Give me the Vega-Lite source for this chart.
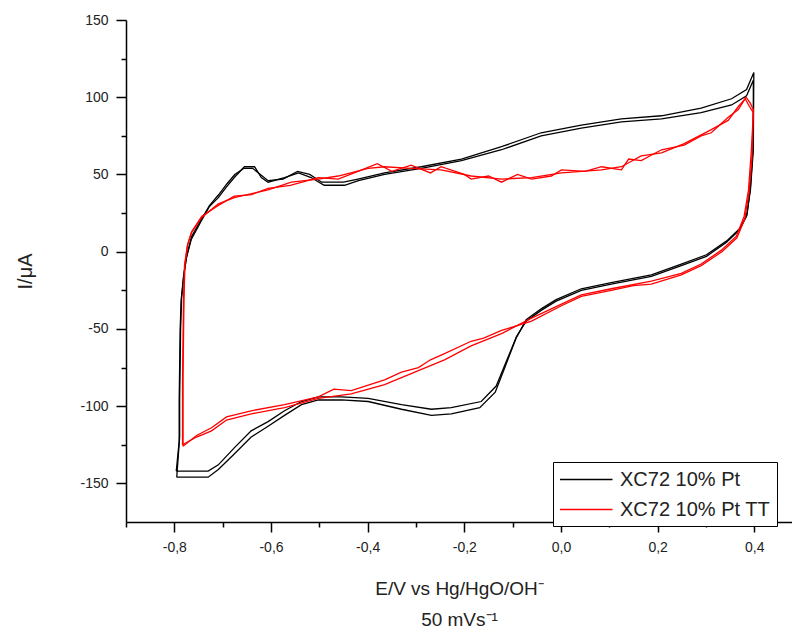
{
  "$schema": "https://vega.github.io/schema/vega-lite/v6.json",
  "width": 666,
  "height": 502,
  "autosize": "none",
  "padding": {"left": 126, "top": 20, "right": 0, "bottom": 109},
  "background": "white",
  "config": {
    "view": {"stroke": null},
    "font": "Liberation Sans",
    "axis": {
      "domainColor": "black", "domainWidth": 1.5, "tickColor": "black", "tickWidth": 1.5,
      "labelFont": "Liberation Sans", "labelFontSize": 14, "labelColor": "#222",
      "titleFont": "Liberation Sans", "titleFontWeight": "normal", "titleColor": "#222", "titleFontSize": 19,
      "grid": false
    }
  },
  "datasets": {
    "cv": [
      {"s":"XC72 10% Pt","c":"A","i":1,"x":-0.796,"y":-142},
      {"s":"XC72 10% Pt","c":"A","i":2,"x":-0.790,"y":-123},
      {"s":"XC72 10% Pt","c":"A","i":3,"x":-0.790,"y":-97},
      {"s":"XC72 10% Pt","c":"A","i":4,"x":-0.788,"y":-51},
      {"s":"XC72 10% Pt","c":"A","i":5,"x":-0.786,"y":-32},
      {"s":"XC72 10% Pt","c":"A","i":6,"x":-0.781,"y":-16},
      {"s":"XC72 10% Pt","c":"A","i":7,"x":-0.775,"y":-4},
      {"s":"XC72 10% Pt","c":"A","i":8,"x":-0.765,"y":8},
      {"s":"XC72 10% Pt","c":"A","i":9,"x":-0.744,"y":20},
      {"s":"XC72 10% Pt","c":"A","i":10,"x":-0.728,"y":29},
      {"s":"XC72 10% Pt","c":"A","i":11,"x":-0.709,"y":35},
      {"s":"XC72 10% Pt","c":"A","i":12,"x":-0.692,"y":42},
      {"s":"XC72 10% Pt","c":"A","i":13,"x":-0.676,"y":48},
      {"s":"XC72 10% Pt","c":"A","i":14,"x":-0.655,"y":55},
      {"s":"XC72 10% Pt","c":"A","i":15,"x":-0.634,"y":55},
      {"s":"XC72 10% Pt","c":"A","i":16,"x":-0.620,"y":48},
      {"s":"XC72 10% Pt","c":"A","i":17,"x":-0.606,"y":45},
      {"s":"XC72 10% Pt","c":"A","i":18,"x":-0.572,"y":48},
      {"s":"XC72 10% Pt","c":"A","i":19,"x":-0.543,"y":51},
      {"s":"XC72 10% Pt","c":"A","i":20,"x":-0.517,"y":48},
      {"s":"XC72 10% Pt","c":"A","i":21,"x":-0.490,"y":43},
      {"s":"XC72 10% Pt","c":"A","i":22,"x":-0.448,"y":43},
      {"s":"XC72 10% Pt","c":"A","i":23,"x":-0.419,"y":46},
      {"s":"XC72 10% Pt","c":"A","i":24,"x":-0.365,"y":50},
      {"s":"XC72 10% Pt","c":"A","i":25,"x":-0.289,"y":54},
      {"s":"XC72 10% Pt","c":"A","i":26,"x":-0.206,"y":59},
      {"s":"XC72 10% Pt","c":"A","i":27,"x":-0.123,"y":66},
      {"s":"XC72 10% Pt","c":"A","i":28,"x":-0.041,"y":75},
      {"s":"XC72 10% Pt","c":"A","i":29,"x":0.042,"y":80},
      {"s":"XC72 10% Pt","c":"A","i":30,"x":0.125,"y":84},
      {"s":"XC72 10% Pt","c":"A","i":31,"x":0.208,"y":86},
      {"s":"XC72 10% Pt","c":"A","i":32,"x":0.290,"y":90},
      {"s":"XC72 10% Pt","c":"A","i":33,"x":0.353,"y":95},
      {"s":"XC72 10% Pt","c":"A","i":34,"x":0.384,"y":101},
      {"s":"XC72 10% Pt","c":"A","i":35,"x":0.398,"y":111},
      {"s":"XC72 10% Pt","c":"A","i":36,"x":0.398,"y":66},
      {"s":"XC72 10% Pt","c":"A","i":37,"x":0.392,"y":40},
      {"s":"XC72 10% Pt","c":"A","i":38,"x":0.384,"y":23},
      {"s":"XC72 10% Pt","c":"A","i":39,"x":0.369,"y":14},
      {"s":"XC72 10% Pt","c":"A","i":40,"x":0.342,"y":6},
      {"s":"XC72 10% Pt","c":"A","i":41,"x":0.301,"y":-3},
      {"s":"XC72 10% Pt","c":"A","i":42,"x":0.249,"y":-9},
      {"s":"XC72 10% Pt","c":"A","i":43,"x":0.187,"y":-16},
      {"s":"XC72 10% Pt","c":"A","i":44,"x":0.104,"y":-21},
      {"s":"XC72 10% Pt","c":"A","i":45,"x":0.042,"y":-25},
      {"s":"XC72 10% Pt","c":"A","i":46,"x":-0.010,"y":-32},
      {"s":"XC72 10% Pt","c":"A","i":47,"x":-0.041,"y":-38},
      {"s":"XC72 10% Pt","c":"A","i":48,"x":-0.072,"y":-45},
      {"s":"XC72 10% Pt","c":"A","i":49,"x":-0.092,"y":-55},
      {"s":"XC72 10% Pt","c":"A","i":50,"x":-0.113,"y":-71},
      {"s":"XC72 10% Pt","c":"A","i":51,"x":-0.134,"y":-87},
      {"s":"XC72 10% Pt","c":"A","i":52,"x":-0.165,"y":-97},
      {"s":"XC72 10% Pt","c":"A","i":53,"x":-0.227,"y":-101},
      {"s":"XC72 10% Pt","c":"A","i":54,"x":-0.268,"y":-102},
      {"s":"XC72 10% Pt","c":"A","i":55,"x":-0.330,"y":-99},
      {"s":"XC72 10% Pt","c":"A","i":56,"x":-0.399,"y":-95},
      {"s":"XC72 10% Pt","c":"A","i":57,"x":-0.454,"y":-94},
      {"s":"XC72 10% Pt","c":"A","i":58,"x":-0.502,"y":-94},
      {"s":"XC72 10% Pt","c":"A","i":59,"x":-0.537,"y":-97},
      {"s":"XC72 10% Pt","c":"A","i":60,"x":-0.572,"y":-103},
      {"s":"XC72 10% Pt","c":"A","i":61,"x":-0.606,"y":-110},
      {"s":"XC72 10% Pt","c":"A","i":62,"x":-0.641,"y":-116},
      {"s":"XC72 10% Pt","c":"A","i":63,"x":-0.676,"y":-127},
      {"s":"XC72 10% Pt","c":"A","i":64,"x":-0.709,"y":-138},
      {"s":"XC72 10% Pt","c":"A","i":65,"x":-0.730,"y":-142},
      {"s":"XC72 10% Pt","c":"A","i":66,"x":-0.765,"y":-142},
      {"s":"XC72 10% Pt","c":"A","i":67,"x":-0.796,"y":-142},

      {"s":"XC72 10% Pt","c":"B","i":1,"x":-0.795,"y":-146},
      {"s":"XC72 10% Pt","c":"B","i":2,"x":-0.789,"y":-120},
      {"s":"XC72 10% Pt","c":"B","i":3,"x":-0.789,"y":-95},
      {"s":"XC72 10% Pt","c":"B","i":4,"x":-0.787,"y":-50},
      {"s":"XC72 10% Pt","c":"B","i":5,"x":-0.785,"y":-30},
      {"s":"XC72 10% Pt","c":"B","i":6,"x":-0.780,"y":-14},
      {"s":"XC72 10% Pt","c":"B","i":7,"x":-0.774,"y":-2},
      {"s":"XC72 10% Pt","c":"B","i":8,"x":-0.764,"y":10},
      {"s":"XC72 10% Pt","c":"B","i":9,"x":-0.744,"y":21},
      {"s":"XC72 10% Pt","c":"B","i":10,"x":-0.727,"y":30},
      {"s":"XC72 10% Pt","c":"B","i":11,"x":-0.708,"y":37},
      {"s":"XC72 10% Pt","c":"B","i":12,"x":-0.691,"y":44},
      {"s":"XC72 10% Pt","c":"B","i":13,"x":-0.675,"y":50},
      {"s":"XC72 10% Pt","c":"B","i":14,"x":-0.656,"y":54},
      {"s":"XC72 10% Pt","c":"B","i":15,"x":-0.638,"y":54},
      {"s":"XC72 10% Pt","c":"B","i":16,"x":-0.622,"y":50},
      {"s":"XC72 10% Pt","c":"B","i":17,"x":-0.606,"y":46},
      {"s":"XC72 10% Pt","c":"B","i":18,"x":-0.575,"y":47},
      {"s":"XC72 10% Pt","c":"B","i":19,"x":-0.545,"y":52},
      {"s":"XC72 10% Pt","c":"B","i":20,"x":-0.520,"y":50},
      {"s":"XC72 10% Pt","c":"B","i":21,"x":-0.495,"y":45},
      {"s":"XC72 10% Pt","c":"B","i":22,"x":-0.450,"y":45},
      {"s":"XC72 10% Pt","c":"B","i":23,"x":-0.420,"y":47},
      {"s":"XC72 10% Pt","c":"B","i":24,"x":-0.365,"y":51},
      {"s":"XC72 10% Pt","c":"B","i":25,"x":-0.289,"y":55},
      {"s":"XC72 10% Pt","c":"B","i":26,"x":-0.206,"y":60},
      {"s":"XC72 10% Pt","c":"B","i":27,"x":-0.123,"y":68},
      {"s":"XC72 10% Pt","c":"B","i":28,"x":-0.041,"y":77},
      {"s":"XC72 10% Pt","c":"B","i":29,"x":0.042,"y":82},
      {"s":"XC72 10% Pt","c":"B","i":30,"x":0.125,"y":86},
      {"s":"XC72 10% Pt","c":"B","i":31,"x":0.208,"y":88},
      {"s":"XC72 10% Pt","c":"B","i":32,"x":0.290,"y":93},
      {"s":"XC72 10% Pt","c":"B","i":33,"x":0.353,"y":99},
      {"s":"XC72 10% Pt","c":"B","i":34,"x":0.384,"y":105},
      {"s":"XC72 10% Pt","c":"B","i":35,"x":0.399,"y":116},
      {"s":"XC72 10% Pt","c":"B","i":36,"x":0.398,"y":70},
      {"s":"XC72 10% Pt","c":"B","i":37,"x":0.392,"y":42},
      {"s":"XC72 10% Pt","c":"B","i":38,"x":0.385,"y":24},
      {"s":"XC72 10% Pt","c":"B","i":39,"x":0.370,"y":15},
      {"s":"XC72 10% Pt","c":"B","i":40,"x":0.343,"y":7},
      {"s":"XC72 10% Pt","c":"B","i":41,"x":0.301,"y":-2},
      {"s":"XC72 10% Pt","c":"B","i":42,"x":0.249,"y":-8},
      {"s":"XC72 10% Pt","c":"B","i":43,"x":0.187,"y":-15},
      {"s":"XC72 10% Pt","c":"B","i":44,"x":0.104,"y":-20},
      {"s":"XC72 10% Pt","c":"B","i":45,"x":0.042,"y":-24},
      {"s":"XC72 10% Pt","c":"B","i":46,"x":-0.010,"y":-31},
      {"s":"XC72 10% Pt","c":"B","i":47,"x":-0.041,"y":-37},
      {"s":"XC72 10% Pt","c":"B","i":48,"x":-0.072,"y":-44},
      {"s":"XC72 10% Pt","c":"B","i":49,"x":-0.093,"y":-56},
      {"s":"XC72 10% Pt","c":"B","i":50,"x":-0.115,"y":-74},
      {"s":"XC72 10% Pt","c":"B","i":51,"x":-0.136,"y":-91},
      {"s":"XC72 10% Pt","c":"B","i":52,"x":-0.168,"y":-101},
      {"s":"XC72 10% Pt","c":"B","i":53,"x":-0.227,"y":-105},
      {"s":"XC72 10% Pt","c":"B","i":54,"x":-0.268,"y":-106},
      {"s":"XC72 10% Pt","c":"B","i":55,"x":-0.330,"y":-102},
      {"s":"XC72 10% Pt","c":"B","i":56,"x":-0.399,"y":-97},
      {"s":"XC72 10% Pt","c":"B","i":57,"x":-0.454,"y":-96},
      {"s":"XC72 10% Pt","c":"B","i":58,"x":-0.502,"y":-96},
      {"s":"XC72 10% Pt","c":"B","i":59,"x":-0.537,"y":-99},
      {"s":"XC72 10% Pt","c":"B","i":60,"x":-0.572,"y":-106},
      {"s":"XC72 10% Pt","c":"B","i":61,"x":-0.606,"y":-113},
      {"s":"XC72 10% Pt","c":"B","i":62,"x":-0.641,"y":-120},
      {"s":"XC72 10% Pt","c":"B","i":63,"x":-0.676,"y":-131},
      {"s":"XC72 10% Pt","c":"B","i":64,"x":-0.709,"y":-141},
      {"s":"XC72 10% Pt","c":"B","i":65,"x":-0.730,"y":-146},
      {"s":"XC72 10% Pt","c":"B","i":66,"x":-0.765,"y":-146},
      {"s":"XC72 10% Pt","c":"B","i":67,"x":-0.795,"y":-146},

      {"s":"XC72 10% Pt TT","c":"A","i":1,"x":-0.783,"y":-125},
      {"s":"XC72 10% Pt TT","c":"A","i":2,"x":-0.783,"y":-84},
      {"s":"XC72 10% Pt TT","c":"A","i":3,"x":-0.781,"y":-32},
      {"s":"XC72 10% Pt TT","c":"A","i":4,"x":-0.779,"y":-9},
      {"s":"XC72 10% Pt TT","c":"A","i":5,"x":-0.773,"y":4},
      {"s":"XC72 10% Pt TT","c":"A","i":6,"x":-0.765,"y":12},
      {"s":"XC72 10% Pt TT","c":"A","i":7,"x":-0.744,"y":22},
      {"s":"XC72 10% Pt TT","c":"A","i":8,"x":-0.709,"y":31},
      {"s":"XC72 10% Pt TT","c":"A","i":9,"x":-0.676,"y":35},
      {"s":"XC72 10% Pt TT","c":"A","i":10,"x":-0.606,"y":40},
      {"s":"XC72 10% Pt TT","c":"A","i":11,"x":-0.558,"y":45},
      {"s":"XC72 10% Pt TT","c":"A","i":12,"x":-0.502,"y":47},
      {"s":"XC72 10% Pt TT","c":"A","i":13,"x":-0.461,"y":49},
      {"s":"XC72 10% Pt TT","c":"A","i":14,"x":-0.399,"y":54},
      {"s":"XC72 10% Pt TT","c":"A","i":15,"x":-0.365,"y":55},
      {"s":"XC72 10% Pt TT","c":"A","i":16,"x":-0.310,"y":54},
      {"s":"XC72 10% Pt TT","c":"A","i":17,"x":-0.248,"y":53},
      {"s":"XC72 10% Pt TT","c":"A","i":18,"x":-0.186,"y":49},
      {"s":"XC72 10% Pt TT","c":"A","i":19,"x":-0.123,"y":47},
      {"s":"XC72 10% Pt TT","c":"A","i":20,"x":-0.061,"y":48},
      {"s":"XC72 10% Pt TT","c":"A","i":21,"x":0.001,"y":51},
      {"s":"XC72 10% Pt TT","c":"A","i":22,"x":0.084,"y":53},
      {"s":"XC72 10% Pt TT","c":"A","i":23,"x":0.125,"y":55},
      {"s":"XC72 10% Pt TT","c":"A","i":24,"x":0.166,"y":62},
      {"s":"XC72 10% Pt TT","c":"A","i":25,"x":0.208,"y":64},
      {"s":"XC72 10% Pt TT","c":"A","i":26,"x":0.255,"y":70},
      {"s":"XC72 10% Pt TT","c":"A","i":27,"x":0.311,"y":79},
      {"s":"XC72 10% Pt TT","c":"A","i":28,"x":0.346,"y":85},
      {"s":"XC72 10% Pt TT","c":"A","i":29,"x":0.367,"y":94},
      {"s":"XC72 10% Pt TT","c":"A","i":30,"x":0.381,"y":99},
      {"s":"XC72 10% Pt TT","c":"A","i":31,"x":0.390,"y":94},
      {"s":"XC72 10% Pt TT","c":"A","i":32,"x":0.398,"y":90},
      {"s":"XC72 10% Pt TT","c":"A","i":33,"x":0.394,"y":66},
      {"s":"XC72 10% Pt TT","c":"A","i":34,"x":0.388,"y":40},
      {"s":"XC72 10% Pt TT","c":"A","i":35,"x":0.379,"y":23},
      {"s":"XC72 10% Pt TT","c":"A","i":36,"x":0.363,"y":10},
      {"s":"XC72 10% Pt TT","c":"A","i":37,"x":0.332,"y":1},
      {"s":"XC72 10% Pt TT","c":"A","i":38,"x":0.290,"y":-8},
      {"s":"XC72 10% Pt TT","c":"A","i":39,"x":0.249,"y":-14},
      {"s":"XC72 10% Pt TT","c":"A","i":40,"x":0.187,"y":-19},
      {"s":"XC72 10% Pt TT","c":"A","i":41,"x":0.104,"y":-24},
      {"s":"XC72 10% Pt TT","c":"A","i":42,"x":0.042,"y":-28},
      {"s":"XC72 10% Pt TT","c":"A","i":43,"x":0.001,"y":-34},
      {"s":"XC72 10% Pt TT","c":"A","i":44,"x":-0.061,"y":-43},
      {"s":"XC72 10% Pt TT","c":"A","i":45,"x":-0.123,"y":-53},
      {"s":"XC72 10% Pt TT","c":"A","i":46,"x":-0.186,"y":-61},
      {"s":"XC72 10% Pt TT","c":"A","i":47,"x":-0.241,"y":-70},
      {"s":"XC72 10% Pt TT","c":"A","i":48,"x":-0.295,"y":-77},
      {"s":"XC72 10% Pt TT","c":"A","i":49,"x":-0.365,"y":-86},
      {"s":"XC72 10% Pt TT","c":"A","i":50,"x":-0.434,"y":-92},
      {"s":"XC72 10% Pt TT","c":"A","i":51,"x":-0.502,"y":-95},
      {"s":"XC72 10% Pt TT","c":"A","i":52,"x":-0.572,"y":-101},
      {"s":"XC72 10% Pt TT","c":"A","i":53,"x":-0.641,"y":-105},
      {"s":"XC72 10% Pt TT","c":"A","i":54,"x":-0.692,"y":-109},
      {"s":"XC72 10% Pt TT","c":"A","i":55,"x":-0.723,"y":-116},
      {"s":"XC72 10% Pt TT","c":"A","i":56,"x":-0.754,"y":-120},
      {"s":"XC72 10% Pt TT","c":"A","i":57,"x":-0.783,"y":-125},

      {"s":"XC72 10% Pt TT","c":"B","i":1,"x":-0.782,"y":-126},
      {"s":"XC72 10% Pt TT","c":"B","i":2,"x":-0.782,"y":-80},
      {"s":"XC72 10% Pt TT","c":"B","i":3,"x":-0.780,"y":-30},
      {"s":"XC72 10% Pt TT","c":"B","i":4,"x":-0.778,"y":-8},
      {"s":"XC72 10% Pt TT","c":"B","i":5,"x":-0.772,"y":5},
      {"s":"XC72 10% Pt TT","c":"B","i":6,"x":-0.764,"y":13},
      {"s":"XC72 10% Pt TT","c":"B","i":7,"x":-0.743,"y":23},
      {"s":"XC72 10% Pt TT","c":"B","i":8,"x":-0.709,"y":30},
      {"s":"XC72 10% Pt TT","c":"B","i":9,"x":-0.676,"y":36},
      {"s":"XC72 10% Pt TT","c":"B","i":10,"x":-0.640,"y":37},
      {"s":"XC72 10% Pt TT","c":"B","i":11,"x":-0.606,"y":41},
      {"s":"XC72 10% Pt TT","c":"B","i":12,"x":-0.560,"y":43},
      {"s":"XC72 10% Pt TT","c":"B","i":13,"x":-0.502,"y":48},
      {"s":"XC72 10% Pt TT","c":"B","i":14,"x":-0.461,"y":47},
      {"s":"XC72 10% Pt TT","c":"B","i":15,"x":-0.420,"y":52},
      {"s":"XC72 10% Pt TT","c":"B","i":16,"x":-0.380,"y":57},
      {"s":"XC72 10% Pt TT","c":"B","i":17,"x":-0.350,"y":52},
      {"s":"XC72 10% Pt TT","c":"B","i":18,"x":-0.310,"y":56},
      {"s":"XC72 10% Pt TT","c":"B","i":19,"x":-0.270,"y":51},
      {"s":"XC72 10% Pt TT","c":"B","i":20,"x":-0.248,"y":55},
      {"s":"XC72 10% Pt TT","c":"B","i":21,"x":-0.200,"y":50},
      {"s":"XC72 10% Pt TT","c":"B","i":22,"x":-0.186,"y":47},
      {"s":"XC72 10% Pt TT","c":"B","i":23,"x":-0.150,"y":49},
      {"s":"XC72 10% Pt TT","c":"B","i":24,"x":-0.123,"y":45},
      {"s":"XC72 10% Pt TT","c":"B","i":25,"x":-0.090,"y":50},
      {"s":"XC72 10% Pt TT","c":"B","i":26,"x":-0.061,"y":47},
      {"s":"XC72 10% Pt TT","c":"B","i":27,"x":-0.020,"y":49},
      {"s":"XC72 10% Pt TT","c":"B","i":28,"x":0.001,"y":53},
      {"s":"XC72 10% Pt TT","c":"B","i":29,"x":0.050,"y":52},
      {"s":"XC72 10% Pt TT","c":"B","i":30,"x":0.084,"y":55},
      {"s":"XC72 10% Pt TT","c":"B","i":31,"x":0.125,"y":53},
      {"s":"XC72 10% Pt TT","c":"B","i":32,"x":0.140,"y":60},
      {"s":"XC72 10% Pt TT","c":"B","i":33,"x":0.166,"y":59},
      {"s":"XC72 10% Pt TT","c":"B","i":34,"x":0.208,"y":66},
      {"s":"XC72 10% Pt TT","c":"B","i":35,"x":0.255,"y":69},
      {"s":"XC72 10% Pt TT","c":"B","i":36,"x":0.290,"y":75},
      {"s":"XC72 10% Pt TT","c":"B","i":37,"x":0.311,"y":77},
      {"s":"XC72 10% Pt TT","c":"B","i":38,"x":0.346,"y":87},
      {"s":"XC72 10% Pt TT","c":"B","i":39,"x":0.367,"y":92},
      {"s":"XC72 10% Pt TT","c":"B","i":40,"x":0.383,"y":100},
      {"s":"XC72 10% Pt TT","c":"B","i":41,"x":0.392,"y":96},
      {"s":"XC72 10% Pt TT","c":"B","i":42,"x":0.398,"y":92},
      {"s":"XC72 10% Pt TT","c":"B","i":43,"x":0.395,"y":60},
      {"s":"XC72 10% Pt TT","c":"B","i":44,"x":0.389,"y":38},
      {"s":"XC72 10% Pt TT","c":"B","i":45,"x":0.380,"y":21},
      {"s":"XC72 10% Pt TT","c":"B","i":46,"x":0.364,"y":9},
      {"s":"XC72 10% Pt TT","c":"B","i":47,"x":0.333,"y":0},
      {"s":"XC72 10% Pt TT","c":"B","i":48,"x":0.290,"y":-9},
      {"s":"XC72 10% Pt TT","c":"B","i":49,"x":0.249,"y":-15},
      {"s":"XC72 10% Pt TT","c":"B","i":50,"x":0.187,"y":-21},
      {"s":"XC72 10% Pt TT","c":"B","i":51,"x":0.150,"y":-22},
      {"s":"XC72 10% Pt TT","c":"B","i":52,"x":0.104,"y":-25},
      {"s":"XC72 10% Pt TT","c":"B","i":53,"x":0.042,"y":-29},
      {"s":"XC72 10% Pt TT","c":"B","i":54,"x":0.001,"y":-35},
      {"s":"XC72 10% Pt TT","c":"B","i":55,"x":-0.061,"y":-45},
      {"s":"XC72 10% Pt TT","c":"B","i":56,"x":-0.123,"y":-51},
      {"s":"XC72 10% Pt TT","c":"B","i":57,"x":-0.160,"y":-56},
      {"s":"XC72 10% Pt TT","c":"B","i":58,"x":-0.186,"y":-58},
      {"s":"XC72 10% Pt TT","c":"B","i":59,"x":-0.241,"y":-66},
      {"s":"XC72 10% Pt TT","c":"B","i":60,"x":-0.270,"y":-70},
      {"s":"XC72 10% Pt TT","c":"B","i":61,"x":-0.295,"y":-75},
      {"s":"XC72 10% Pt TT","c":"B","i":62,"x":-0.330,"y":-78},
      {"s":"XC72 10% Pt TT","c":"B","i":63,"x":-0.365,"y":-83},
      {"s":"XC72 10% Pt TT","c":"B","i":64,"x":-0.434,"y":-90},
      {"s":"XC72 10% Pt TT","c":"B","i":65,"x":-0.470,"y":-89},
      {"s":"XC72 10% Pt TT","c":"B","i":66,"x":-0.502,"y":-94},
      {"s":"XC72 10% Pt TT","c":"B","i":67,"x":-0.572,"y":-99},
      {"s":"XC72 10% Pt TT","c":"B","i":68,"x":-0.641,"y":-103},
      {"s":"XC72 10% Pt TT","c":"B","i":69,"x":-0.692,"y":-107},
      {"s":"XC72 10% Pt TT","c":"B","i":70,"x":-0.723,"y":-114},
      {"s":"XC72 10% Pt TT","c":"B","i":71,"x":-0.754,"y":-119},
      {"s":"XC72 10% Pt TT","c":"B","i":72,"x":-0.782,"y":-126}
    ]
  },
  "resolve": {"scale": {"x": "shared", "y": "shared"}, "axis": {"x": "independent", "y": "independent"}},
  "layer": [
    {
      "mark": {"type": "rule", "color": "black", "strokeWidth": 1.5},
      "encoding": {
        "x": {"datum": -0.9, "type": "quantitative",
              "scale": {"domain": [-0.9, 0.478], "nice": false, "zero": false},
              "axis": {"orient": "bottom", "values": [-0.9, -0.7, -0.5, -0.3, -0.1, 0.1, 0.3], "tickSize": 5, "labels": false, "domain": false, "title": null}},
        "x2": {"datum": 0.478},
        "y": {"datum": 150, "type": "quantitative",
              "scale": {"domain": [-175, 150], "nice": false, "zero": false},
              "axis": {"orient": "left", "values": [125, 75, 25, -25, -75, -125], "tickSize": 5, "labels": false, "domain": false, "title": null}}
      }
    },
    {
      "data": {"name": "cv"},
      "mark": {"type": "line", "strokeWidth": 1.3, "interpolate": "linear"},
      "encoding": {
        "x": {"field": "x", "type": "quantitative",
              "scale": {"domain": [-0.9, 0.478], "nice": false, "zero": false},
              "axis": {"orient": "bottom", "values": [-0.8, -0.6, -0.4, -0.2, 0, 0.2, 0.4], "tickSize": 10, "labelPadding": 8,
                       "labelExpr": "replace(replace(format(datum.value, '.1f'), '.', ','), '\u2212', '-')",
                       "title": ["E/V vs Hg/HgO/OH\u207b", "50 mVs\u207b\u00b9"], "titleLineHeight": 31, "titlePadding": 25}},
        "y": {"field": "y", "type": "quantitative",
              "scale": {"domain": [-175, 150], "nice": false, "zero": false},
              "axis": {"orient": "left", "values": [-150, -100, -50, 0, 50, 100, 150], "tickSize": 10, "labelPadding": 8,
                       "labelExpr": "replace(format(datum.value, 'd'), '\u2212', '-')",
                       "title": "I/\u03bcA", "titleFontSize": 20, "titlePadding": 44}},
        "color": {"field": "s", "type": "nominal",
                  "scale": {"domain": ["XC72 10% Pt", "XC72 10% Pt TT"], "range": ["black", "#ff0000"]},
                  "legend": {"title": null, "orient": "none", "legendX": 427, "legendY": 442,
                             "strokeColor": "black", "fillColor": "white", "padding": 6,
                             "symbolType": "M-1,0H4", "symbolSize": 441, "symbolStrokeWidth": 1.5,
                             "labelFont": "Liberation Sans", "labelFontSize": 20, "labelColor": "#222",
                             "labelOffset": 38, "rowPadding": 8}},
        "detail": {"field": "c"},
        "order": {"field": "i", "type": "quantitative"}
      }
    }
  ]
}
